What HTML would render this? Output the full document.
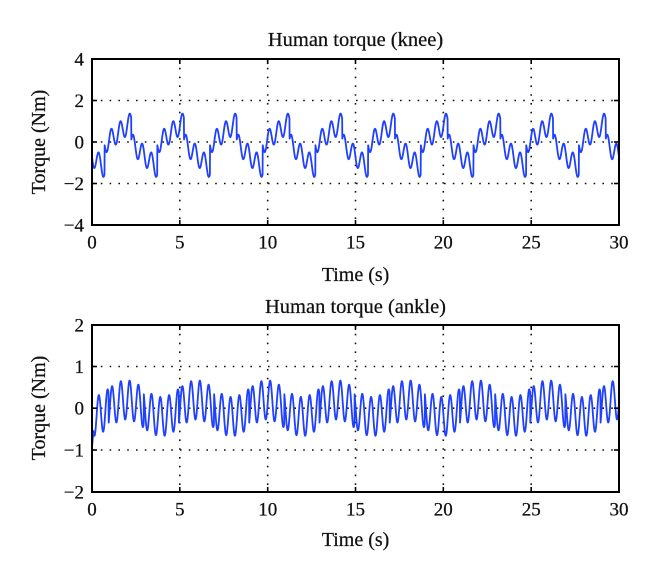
<!DOCTYPE html>
<html>
<head>
<meta charset="utf-8">
<style>
  html, body { margin: 0; padding: 0; background: #fff; }
  svg { display: block; }
  text { font-family: "Liberation Serif", "DejaVu Serif", serif; fill: #111; stroke: #111; stroke-width: 0.25px; }
</style>
</head>
<body>
<svg id="chart" xmlns="http://www.w3.org/2000/svg" width="660" height="580" viewBox="0 0 660 580">
  <rect x="0" y="0" width="660" height="580" fill="#fff"/>

  <!-- ===== TOP PLOT (knee) ===== -->
  <g id="grid1" stroke="#111" stroke-width="1.6" stroke-dasharray="1.6 7.2" fill="none">
    <line x1="92" y1="100.5" x2="619" y2="100.5"/>
    <line x1="92" y1="142" x2="619" y2="142"/>
    <line x1="92" y1="183.5" x2="619" y2="183.5"/>
    <line x1="179.8" y1="59" x2="179.8" y2="225"/>
    <line x1="267.7" y1="59" x2="267.7" y2="225"/>
    <line x1="355.5" y1="59" x2="355.5" y2="225"/>
    <line x1="443.3" y1="59" x2="443.3" y2="225"/>
    <line x1="531.2" y1="59" x2="531.2" y2="225"/>
  </g>
  <path id="knee" fill="none" stroke="#1f40ff" stroke-width="1.8" stroke-linejoin="round"/>
  <g stroke="#000" stroke-width="1.6">
    <line x1="92" y1="100.5" x2="97" y2="100.5"/><line x1="619" y1="100.5" x2="614" y2="100.5"/>
    <line x1="92" y1="142" x2="97" y2="142"/><line x1="619" y1="142" x2="614" y2="142"/>
    <line x1="92" y1="183.5" x2="97" y2="183.5"/><line x1="619" y1="183.5" x2="614" y2="183.5"/>
    <line x1="179.8" y1="225" x2="179.8" y2="220"/><line x1="179.8" y1="59" x2="179.8" y2="64"/>
    <line x1="267.7" y1="225" x2="267.7" y2="220"/><line x1="267.7" y1="59" x2="267.7" y2="64"/>
    <line x1="355.5" y1="225" x2="355.5" y2="220"/><line x1="355.5" y1="59" x2="355.5" y2="64"/>
    <line x1="443.3" y1="225" x2="443.3" y2="220"/><line x1="443.3" y1="59" x2="443.3" y2="64"/>
    <line x1="531.2" y1="225" x2="531.2" y2="220"/><line x1="531.2" y1="59" x2="531.2" y2="64"/>
  </g>
  <rect x="92" y="59" width="527" height="166" fill="none" stroke="#000" stroke-width="2"/>

  <text x="355.5" y="46" font-size="20.5" text-anchor="middle">Human torque (knee)</text>
  <g font-size="19" text-anchor="end">
    <text x="84" y="65.5">4</text>
    <text x="84" y="107">2</text>
    <text x="84" y="148.5">0</text>
    <text x="84" y="190">−2</text>
    <text x="84" y="231.5">−4</text>
  </g>
  <g font-size="19" text-anchor="middle">
    <text x="92" y="248.5">0</text>
    <text x="179.8" y="248.5">5</text>
    <text x="267.7" y="248.5">10</text>
    <text x="355.5" y="248.5">15</text>
    <text x="443.3" y="248.5">20</text>
    <text x="531.2" y="248.5">25</text>
    <text x="619" y="248.5">30</text>
  </g>
  <text x="355.5" y="281" font-size="20" text-anchor="middle">Time (s)</text>
  <text transform="translate(45,142) rotate(-90)" font-size="20" text-anchor="middle">Torque (Nm)</text>

  <!-- ===== BOTTOM PLOT (ankle) ===== -->
  <g id="grid2" stroke="#111" stroke-width="1.6" stroke-dasharray="1.6 7.2" fill="none">
    <line x1="92" y1="366.5" x2="619" y2="366.5"/>
    <line x1="92" y1="408.2" x2="619" y2="408.2"/>
    <line x1="92" y1="450" x2="619" y2="450"/>
    <line x1="179.8" y1="325" x2="179.8" y2="492"/>
    <line x1="267.7" y1="325" x2="267.7" y2="492"/>
    <line x1="355.5" y1="325" x2="355.5" y2="492"/>
    <line x1="443.3" y1="325" x2="443.3" y2="492"/>
    <line x1="531.2" y1="325" x2="531.2" y2="492"/>
  </g>
  <path id="ankle" fill="none" stroke="#1f40ff" stroke-width="1.8" stroke-linejoin="round"/>
  <g stroke="#000" stroke-width="1.6">
    <line x1="92" y1="366.5" x2="97" y2="366.5"/><line x1="619" y1="366.5" x2="614" y2="366.5"/>
    <line x1="92" y1="408.2" x2="97" y2="408.2"/><line x1="619" y1="408.2" x2="614" y2="408.2"/>
    <line x1="92" y1="450" x2="97" y2="450"/><line x1="619" y1="450" x2="614" y2="450"/>
    <line x1="179.8" y1="492" x2="179.8" y2="487"/><line x1="179.8" y1="325" x2="179.8" y2="330"/>
    <line x1="267.7" y1="492" x2="267.7" y2="487"/><line x1="267.7" y1="325" x2="267.7" y2="330"/>
    <line x1="355.5" y1="492" x2="355.5" y2="487"/><line x1="355.5" y1="325" x2="355.5" y2="330"/>
    <line x1="443.3" y1="492" x2="443.3" y2="487"/><line x1="443.3" y1="325" x2="443.3" y2="330"/>
    <line x1="531.2" y1="492" x2="531.2" y2="487"/><line x1="531.2" y1="325" x2="531.2" y2="330"/>
  </g>
  <rect x="92" y="325" width="527" height="167" fill="none" stroke="#000" stroke-width="2"/>

  <text x="355.5" y="313" font-size="20.5" text-anchor="middle">Human torque (ankle)</text>
  <g font-size="19" text-anchor="end">
    <text x="84" y="331.5">2</text>
    <text x="84" y="373">1</text>
    <text x="84" y="414.5">0</text>
    <text x="84" y="456.5">−1</text>
    <text x="84" y="498.5">−2</text>
  </g>
  <g font-size="19" text-anchor="middle">
    <text x="92" y="515.5">0</text>
    <text x="179.8" y="515.5">5</text>
    <text x="267.7" y="515.5">10</text>
    <text x="355.5" y="515.5">15</text>
    <text x="443.3" y="515.5">20</text>
    <text x="531.2" y="515.5">25</text>
    <text x="619" y="515.5">30</text>
  </g>
  <text x="355.5" y="546" font-size="20" text-anchor="middle">Time (s)</text>
  <text transform="translate(45,408) rotate(-90)" font-size="20" text-anchor="middle">Torque (Nm)</text>
</svg>

<script>
(function(){
  var TWO_PI = Math.PI * 2;
  function X(t){ return 92 + t * (527/30); }
  function YK(v){ return 142 - v * 20.75; }
  function YA(v){ return 408.2 - v * 41.75; }

  function knee(t){
    var p = ((t - 0.72) % 3 + 3) % 3;
    if (p < 1.52) {
      var tau = p;
      var trend = -0.1 + 0.7 * tau;
      var osc = -Math.cos(TWO_PI * (tau - 0.12) / 0.52);
      return trend + 0.47 * osc;
    } else {
      var tau2 = p - 1.52;
      var trend2 = -0.05 - 0.82 * tau2;
      var osc2 = -Math.cos(TWO_PI * (tau2 - 0.36) / 0.52);
      return trend2 + 0.48 * osc2;
    }
  }

  function ankle(t){
    var k = Math.floor((t + 1.05) / 2);
    var s = t + 1.05 - 2 * k;
    var odd = (k % 2) === 1;
    var sign = odd ? 1 : -1;
    var phi = odd ? -0.2 : -3.3;
    return sign * 0.2 * Math.sin(Math.PI * s / 2) + 0.47 * Math.sin(4 * Math.PI * t + phi);
  }

  var d = 'M' + X(0).toFixed(2) + ',' + YK(0).toFixed(2);
  for (var i = 0; i <= 3000; i++) {
    var t = i / 100;
    d += 'L' + X(t).toFixed(2) + ',' + YK(knee(t)).toFixed(2);
  }
  document.getElementById('knee').setAttribute('d', d);

  var a = 'M' + X(0).toFixed(2) + ',' + YA(1.2).toFixed(2);
  a += 'L' + X(0).toFixed(2) + ',' + YA(-0.93).toFixed(2);
  for (var j = 8; j <= 3000; j++) {
    var tt = j / 100;
    a += 'L' + X(tt).toFixed(2) + ',' + YA(ankle(tt)).toFixed(2);
  }
  document.getElementById('ankle').setAttribute('d', a);
})();
</script>
</body>
</html>
